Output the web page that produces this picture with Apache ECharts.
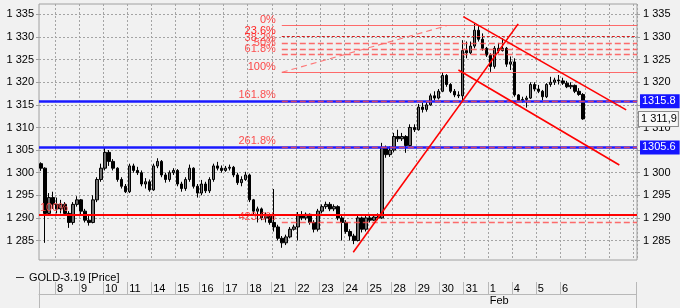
<!DOCTYPE html>
<html><head><meta charset="utf-8">
<script src="https://cdn.jsdelivr.net/npm/echarts@6/dist/echarts.min.js"></script>
<style>html,body{margin:0;padding:0;background:#f1f1f1}#c{width:680px;height:308px}</style>
</head><body><div id="c"></div>
<script>
// Day labels (Jan 7 partial ... Feb 6 with data, then empty future days)
const dayLabels = ['7','8','9','10','11','14','15','16','17','18','21','22','23','24','25','28','29','30','31','1','4','5','6','7','8','11'];
// candles per day on the chart (first day partially visible, last one cut by the edge)
const daySlots = [4,6,6,6,6,6,6,6,6,6,6,6,6,6,6,6,6,6,6,6,6,6,6,6,6,1];
const monthStarts = [['Feb', 19]];
const seriesName = 'GOLD-3.19 [Price]';
// [open, close, low, high]
const candles = [
[1302,1301,1300.4,1302.3],[1301,1291,1284.5,1301.2],[1291,1294.5,1290.5,1295.5],[1294.5,1293,1292,1295.8],
[1293,1292,1291,1294.5],[1292,1293,1291,1294],[1293,1291,1290.5,1293.5],[1291,1289,1287.8,1291.5],[1289,1293,1288.5,1293.5],[1293,1294,1292.5,1294.8],
[1294,1291.5,1290.5,1294.2],[1291.5,1289.5,1289,1292],[1289.5,1289,1288.3,1290.5],[1289,1294,1288.8,1295],[1294,1298.5,1293.5,1299],[1298.5,1301,1298,1302],
[1301,1304.5,1300.5,1305.5],[1304.5,1302.5,1301.5,1305],[1302.5,1301,1300.5,1303],[1301,1298.5,1298,1301.2],[1298.5,1297,1296.5,1299],[1297,1295.8,1295.5,1297.5],
[1295.8,1301.5,1295.5,1302],[1301.5,1300.5,1300,1302],[1300.5,1300,1299.5,1301.3],[1300,1297.5,1297,1300.5],[1297.5,1298,1296.5,1298.8],[1298,1296.2,1295.8,1298.5],
[1296.2,1301.5,1296,1302],[1301.5,1302.5,1301,1303.2],[1302.5,1299.5,1299,1302.8],[1299.5,1298.5,1297.8,1300],[1298.5,1300,1298,1300.5],[1300,1300.5,1299.5,1301],
[1300.5,1297.5,1297,1300.8],[1297.5,1296.5,1295.8,1298],[1296.5,1298.5,1296,1299],[1298.5,1301,1298,1301.8],[1301,1297,1296.5,1301.2],[1297,1295.5,1294.5,1297.5],
[1295.5,1297.5,1295,1298.4],[1297.5,1296,1295.5,1298],[1296,1298.5,1295.5,1299],[1298.5,1301.5,1298,1302],[1301.5,1301,1300.5,1302.4],[1301,1300.5,1300,1301.6],
[1300.5,1301,1300.2,1301.5],[1301,1301.2,1300.5,1301.8],[1301.2,1299.5,1299,1301.5],[1299.5,1297.8,1297.3,1300],[1297.8,1298.5,1297,1299.2],[1298.5,1299.5,1298.2,1300.2],
[1299.5,1294,1293.5,1299.8],[1294,1291.5,1290.5,1294.2],[1291.5,1292,1289,1292.5],[1292,1290,1289.5,1292.3],[1290,1290.5,1289,1291.2],[1290.5,1289,1288.5,1291],
[1289,1288,1287,1296.4],[1288,1285.5,1285,1288.5],[1285.5,1284.5,1283.4,1286],[1284.5,1285.8,1284,1286.3],[1285.8,1287.5,1285.5,1288],[1287.5,1288,1287.2,1288.5],
[1288,1290.5,1285,1291.3],[1290.5,1290,1289.5,1291.5],[1290,1290.8,1289.5,1291.2],[1290.8,1289,1288.5,1291],[1289,1287.5,1286.8,1289.5],[1287.5,1291.5,1287,1292],
[1291.5,1292.5,1291,1293],[1292.5,1293,1292,1293.6],[1293,1292,1291.5,1293.5],[1292,1292.5,1291.5,1293],[1292.5,1290,1289.5,1292.8],[1290,1289,1285,1290.5],
[1289,1287,1286.5,1289.5],[1287,1286,1285,1287.5],[1286,1285,1284.2,1286.5],[1285,1290,1284.8,1290.5],[1290,1287.5,1286.8,1290.3],[1287.5,1290,1287,1290.5],
[1290,1289.5,1289,1290.8],[1289.5,1290.2,1289.3,1290.8],[1290.2,1290,1289.5,1291],[1290,1305.5,1289.8,1306.6],[1305.5,1304,1303.3,1306],[1304,1305,1303.5,1305.8],
[1305,1308,1304.5,1308.8],[1308,1307.5,1306.8,1309.5],[1307.5,1308,1307,1308.8],[1308,1306,1304.4,1308.3],[1306,1310,1305.8,1310.7],[1310,1309.5,1309,1310.7],
[1309.5,1314.5,1309.3,1315.2],[1314.5,1314,1313.3,1315.5],[1314,1315,1313.5,1315.6],[1315,1317,1314.8,1317.5],[1317,1316.5,1316,1318],[1316.5,1318,1316.2,1318.5],
[1318,1321.5,1317.8,1322.2],[1321.5,1319.5,1319,1321.8],[1319.5,1318,1317.6,1319.8],[1318,1317.2,1316.7,1318.5],[1317.2,1317,1316.5,1318],[1317,1327,1315.8,1329.3],
[1327,1326.5,1325.3,1329],[1326.5,1328,1326.2,1329],[1328,1331.5,1327.5,1333],[1331.5,1329.5,1329,1332.4],[1329.5,1327.5,1327,1330.8],[1327.5,1326,1325.6,1327.8],
[1326,1323.5,1322.3,1326.4],[1323.5,1327.5,1323,1328],[1327.5,1327,1326.4,1328.7],[1327,1327.5,1326.8,1329.7],[1327.5,1324,1323.4,1327.8],[1324,1324.5,1322.7,1325.7],
[1324.5,1317.2,1316.8,1325.3],[1317.2,1316,1315.8,1317.4],[1316,1316.2,1315.5,1316.8],[1316.2,1316.5,1314.4,1317],[1316.5,1319.5,1316.3,1320],[1319.5,1318.5,1318,1320],
[1318.5,1318,1317.6,1319.4],[1318,1316.8,1316,1318.3],[1316.8,1319.5,1316.5,1319.8],[1319.5,1320,1319,1321.2],[1320,1320.5,1319.4,1321],[1320.5,1320.3,1319.5,1321.6],
[1320.3,1319.8,1319.4,1321],[1319.8,1319,1318.7,1320.3],[1319,1319.3,1318.5,1320],[1319.3,1318,1317.6,1319.5],[1318,1317.3,1317,1318.7],[1317.3,1311.9,1311.7,1317.6]
];
const lastPrice = 1311.9;
const lastPriceText = '1 311,9';
const yRange = [1280.7, 1337.3];
// Horizontal levels
const blueLevels = [1315.8, 1305.6];
const redLevel = 1290.8;
// Fibonacci extension tool
const fibNames  = ['0%','23.6%','38.2%','50%','61.8%','100%','161.8%','261.8%','423.6%'];
const fibValues = [1332.5,1330.1,1328.6,1327.4,1326.2,1322.2,1315.9,1305.7,1289.0];
const fibStartX = 60.5;       // in candle-slot units
const fibAnchor = [[60.5,1322.2],[101.6,1332.5]];
// Trend lines (slot units, price)
const trendUp    = [[78.3,1282.4],[119.4,1332.9]];
const chanUpper  = [[105.7,1334.5],[146.3,1313.9]];
const chanLower  = [[104.5,1322.7],[144.6,1301.7]];

// ---- build categories
const cats = [], dayStart = {};
let idx = 0;
dayLabels.forEach((d, di) => {
  dayStart[idx] = di;
  for (let k = 0; k < daySlots[di]; k++) cats.push(di + ':' + k);
  idx += daySlots[di];
});
const N = cats.length;
const isDayStart = i => dayStart[i] !== undefined;
const labeled = i => isDayStart(i) && dayStart[i] >= 1 && i < candles.length;
const monthIdx = {};
monthStarts.forEach(([m, di]) => { let s = 0; for (let k = 0; k < di; k++) s += daySlots[k]; monthIdx[s] = m; });

const fmt = v => { const s = String(Math.round(v)); return s.slice(0, s.length - 3) + ' ' + s.slice(-3); };
const gridColor = '#a4a4a4';
const font = 'Liberation Sans, Arial, sans-serif';

const fibStyles = fibNames.map((n, i) => {
  if (i === 0 || i === 5) return {color: '#ff5252', width: 1.2, type: 'solid', opacity: 0.85};
  if (i === 1) return {color: '#d81e1e', width: 1, type: [3, 2], opacity: 1};
  return {color: '#ff4a4a', width: 1.4, type: [6, 3], opacity: 0.8};
});

const fibLines = fibValues.map((v, i) => [
  {coord: [fibStartX, v], lineStyle: fibStyles[i],
   label: {show: true, position: 'start', formatter: fibNames[i], color: '#ff2424', fontSize: 11, fontFamily: font,
           align: 'right', verticalAlign: 'bottom', distance: 6}},
  {coord: [N, v]}
]);
fibLines.push([{coord: fibAnchor[0], lineStyle: {color: '#ff6a6a', width: 1.1, type: [6, 4], opacity: 0.9}, label: {show: false}}, {coord: fibAnchor[1]}]);

const trendLines = [trendUp, chanUpper, chanLower].map(seg => [
  {coord: seg[0], lineStyle: {color: '#ff0000', width: 1.6, type: 'solid'}, label: {show: false}},
  {coord: seg[1]}
]);

const tagLabel = (txt) => ({show: true, position: 'end', formatter: txt, color: '#fff', backgroundColor: '#1515ff',
  padding: [2, 4, 1, 2], fontSize: 11, fontFamily: font, distance: 3});

const chart = echarts.init(document.getElementById('c'), null, {renderer: 'canvas'});
chart.setOption({
  animation: false,
  backgroundColor: '#f1f1f1',
  textStyle: {fontFamily: font},
  legend: {
    data: [seriesName], left: 11, top: 267, icon: 'rect', itemWidth: 8, itemHeight: 1,
    itemStyle: {color: '#333', borderWidth: 0}, textStyle: {fontSize: 11, color: '#000', fontFamily: font},
    selectedMode: false
  },
  grid: [
    {left: 39, right: 43, top: 4, height: 256, show: true, borderColor: '#a0a0a0', borderWidth: 1, outerBoundsMode: 'none'},
    {left: 39, right: 44, top: 282, height: 12, outerBoundsMode: 'none'},
    {left: 39, right: 44, top: 294, height: 20, outerBoundsMode: 'none'}
  ],
  xAxis: [
    {type: 'category', gridIndex: 0, data: cats, boundaryGap: true,
     axisLine: {show: false}, axisTick: {show: false}, axisLabel: {show: false},
     splitLine: {show: true, interval: i => isDayStart(i) && i > 0, lineStyle: {color: gridColor, type: [2, 2], width: 1}}},
    {type: 'value', gridIndex: 0, min: 0, max: N, show: false},
    {type: 'category', gridIndex: 1, data: cats, position: 'top', boundaryGap: true,
     axisLine: {show: true, lineStyle: {color: '#b8b8b8'}}, axisTick: {show: false},
     splitLine: {show: true, interval: labeled, lineStyle: {color: '#b8b8b8', type: 'solid'}},
     axisLabel: {show: true, inside: true, interval: labeled, margin: 1, align: 'left', fontSize: 11, color: '#000', fontFamily: font,
                 formatter: v => dayLabels[+v.split(':')[0]]}},
    {type: 'category', gridIndex: 2, data: cats, position: 'top', boundaryGap: true,
     axisLine: {show: true, lineStyle: {color: '#b8b8b8'}}, axisTick: {show: false},
     splitLine: {show: true, interval: i => monthIdx[i] !== undefined, lineStyle: {color: '#b8b8b8', type: 'solid'}},
     axisLabel: {show: true, inside: true, interval: i => monthIdx[i] !== undefined, margin: 1, align: 'left', fontSize: 11, color: '#000', fontFamily: font,
                 formatter: (v, i) => monthIdx[i] || ''}}
  ],
  yAxis: [
    {type: 'value', gridIndex: 0, position: 'left', min: yRange[0], max: yRange[1], minInterval: 5, maxInterval: 5, splitNumber: 11,
     axisLine: {show: false}, axisTick: {show: true, length: 3, lineStyle: {color: '#a0a0a0'}},
     axisLabel: {formatter: fmt, fontSize: 11, color: '#000', margin: 5, showMinLabel: false, showMaxLabel: false, fontFamily: font},
     splitLine: {show: true, showMinLine: false, showMaxLine: false, lineStyle: {color: gridColor, type: [2, 2]}}},
    {type: 'value', gridIndex: 0, position: 'right', min: yRange[0], max: yRange[1], minInterval: 5, maxInterval: 5, splitNumber: 11,
     axisLine: {show: false}, axisTick: {show: true, length: 3, lineStyle: {color: '#a0a0a0'}},
     axisLabel: {formatter: fmt, fontSize: 11, color: '#000', margin: 6, showMinLabel: false, showMaxLabel: false, fontFamily: font},
     splitLine: {show: false}},
    {type: 'value', gridIndex: 1, axisLine: {show: true, lineStyle: {color: '#b8b8b8'}}, axisLabel: {show: false}, axisTick: {show: false}, splitLine: {show: false}},
    {type: 'value', gridIndex: 2, axisLine: {show: true, lineStyle: {color: '#b8b8b8'}}, axisLabel: {show: false}, axisTick: {show: false}, splitLine: {show: false}}
  ],
  series: [
    {type: 'line', name: 'levels', xAxisIndex: 1, yAxisIndex: 0, data: [], silent: true, z: 2,
     markLine: {symbol: ['none', 'none'], silent: true, animation: false,
       data: [
         {yAxis: blueLevels[0], lineStyle: {color: '#1a1aff', width: 2.5, type: 'solid'}, label: tagLabel(blueLevels[0].toFixed(1))},
         {yAxis: blueLevels[1], lineStyle: {color: '#1a1aff', width: 2.5, type: 'solid'}, label: tagLabel(blueLevels[1].toFixed(1))},
         {yAxis: redLevel, lineStyle: {color: '#ff0000', width: 2, type: 'solid'},
          label: {show: true, position: 'insideStartTop', formatter: '100%', color: '#ff4d4d', fontSize: 11, fontFamily: font, distance: 1}},
         {yAxis: lastPrice, lineStyle: {width: 0, opacity: 0},
          label: {show: true, position: 'end', formatter: lastPriceText, color: '#000', backgroundColor: '#f8f8f8', borderColor: '#8a8a8a', borderWidth: 1,
                  padding: [2, 1, 1, 2], fontSize: 11, fontFamily: font, distance: 2, opacity: 1}}
       ]}},
    {type: 'candlestick', name: seriesName, xAxisIndex: 0, yAxisIndex: 0, data: candles, z: 3, barWidth: 3,
     itemStyle: {color: '#6e6e6e', color0: '#000000', borderColor: '#000000', borderColor0: '#000000', borderWidth: 1}},
    {type: 'line', name: 'fib', xAxisIndex: 1, yAxisIndex: 0, data: [], silent: true, z: 4,
     markLine: {symbol: ['none', 'none'], silent: true, animation: false, lineStyle: {color: '#ff5050'}, data: fibLines}},
    {type: 'line', name: 'trend', xAxisIndex: 1, yAxisIndex: 0, data: [], silent: true, z: 5,
     markLine: {symbol: ['none', 'none'], silent: true, animation: false, data: trendLines}}
  ]
});
</script></body></html>
